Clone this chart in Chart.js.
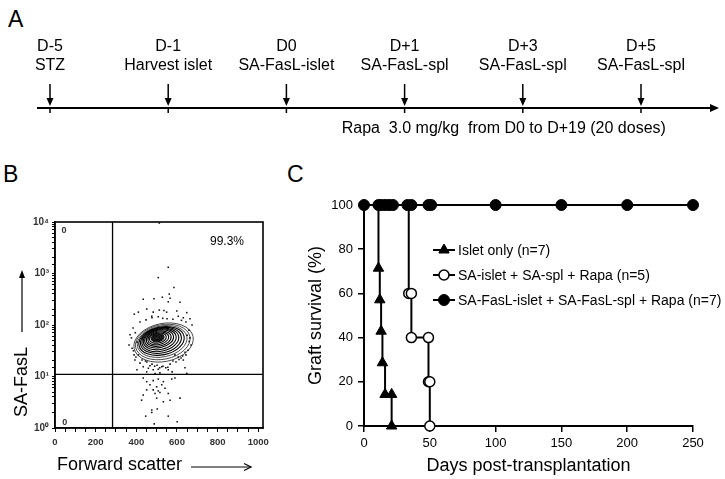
<!DOCTYPE html>
<html>
<head>
<meta charset="utf-8">
<script src="https://cdn.jsdelivr.net/npm/chart.js@4.4.0/dist/chart.umd.min.js"></script>
<style>
  html, body { margin: 0; padding: 0; background: #fff; }
  body { width: 725px; height: 479px; position: relative; overflow: hidden; font-family: Arial, "Liberation Sans", sans-serif; }
  .panel-label { position: absolute; font-size: 23px; color: #000; line-height: 1; }
  canvas { position: absolute; }
  #timeline { left: 0; top: 0; }
  #flow { left: 0; top: 190px; }
  #survival { left: 295px; top: 190px; }
</style>
</head>
<body>
<div class="panel-label" style="left:8px;top:8px">A</div>
<div class="panel-label" style="left:3px;top:163px">B</div>
<div class="panel-label" style="left:287px;top:163px">C</div>
<canvas id="timeline" width="725" height="150"></canvas>
<canvas id="flow" width="290" height="289"></canvas>
<canvas id="survival" width="430" height="289"></canvas>
<script>
// --- A: protocol timeline ---
const events = ['D-5', 'D-1', 'D0', 'D+1', 'D+3', 'D+5'];
const eventNotes = ['STZ', 'Harvest islet', 'SA-FasL-islet', 'SA-FasL-spl', 'SA-FasL-spl', 'SA-FasL-spl'];
const rapaNote = 'Rapa  3.0 mg/kg  from D0 to D+19 (20 doses)';

// --- B: flow cytometry (forward scatter vs SA-FasL, log decades) ---
const fscGate = 283;
const fasLGate = 11;
const quadText = ['0', '0', '99.3%'];
const quadFsc = [32, 36, 846];
const quadFasL = [6700, 1.25, 4100];
const dotFsc = [
  557, 508, 585, 434, 487, 528, 562, 557, 615, 566, 451, 410, 390, 483, 513, 536, 549, 599, 648, 476,
  508, 606, 631, 664, 369, 513, 418, 448, 477, 530, 551, 580, 622, 644, 384, 376, 379, 389, 403, 364,
  428, 452, 477, 502, 531, 566, 595, 620, 659, 664, 669, 654, 644, 674, 410, 393, 418, 434, 459, 483,
  508, 525, 545, 557, 590, 606, 631, 648, 451, 492, 467, 516, 639, 576, 403, 434, 451, 483, 508, 533,
  467, 500, 525, 574, 590, 451, 483, 508, 541, 434, 492, 516, 557, 500, 533, 566, 615, 426, 476, 476,
  503, 446, 557, 601, 488, 395, 386, 398, 660, 650, 640, 628, 445, 490, 515, 555, 580, 610
];
const dotLog = [
  3.12, 2.92, 2.73, 2.50, 2.51, 2.54, 2.60, 2.45, 2.44, 2.52, 2.31, 2.25, 2.21, 2.25, 2.29, 2.28, 2.25, 2.27, 2.24, 2.17,
  2.16, 2.17, 2.14, 2.12, 1.81, 3.98, 2.06, 2.10, 2.14, 2.13, 2.12, 2.11, 2.09, 2.06, 1.94, 1.75, 1.55, 1.42, 1.67, 1.61,
  1.32, 1.28, 1.24, 1.22, 1.20, 1.24, 1.28, 1.36, 1.90, 1.75, 1.61, 1.51, 1.42, 2.00, 1.42, 1.32, 1.26, 1.19, 1.16, 1.13,
  1.14, 1.19, 1.17, 1.13, 1.42, 1.38, 1.32, 1.06, 1.09, 1.06, 1.21, 1.07, 1.17, 1.09, 1.13, 0.97, 0.90, 0.92, 0.95, 0.90,
  0.84, 0.80, 0.84, 0.95, 0.97, 0.74, 0.74, 0.72, 0.77, 0.64, 0.67, 0.69, 0.67, 0.58, 0.51, 0.54, 0.58, 0.54, 0.35, 0.30,
  0.37, 0.23, 0.23, 0.12, 0.08, 1.85, 1.50, 1.38, 1.68, 1.80, 1.47, 1.40, 1.30, 1.20, 1.17, 1.18, 1.30, 1.33
];
// density contours: centre, half-width (fsc units), half-height (decades)
const contourFsc = [534, 530, 527, 524, 521, 518, 515, 512, 510, 508, 506, 505, 504, 503];
const contourLog = [1.66, 1.67, 1.68, 1.69, 1.70, 1.71, 1.72, 1.73, 1.735, 1.74, 1.745, 1.75, 1.75, 1.75];
const contourRx = [148, 136, 124, 113, 102, 92, 82, 72, 62, 52, 42, 32, 22, 12];
const contourRy = [0.37, 0.335, 0.30, 0.27, 0.245, 0.22, 0.195, 0.17, 0.145, 0.12, 0.095, 0.075, 0.05, 0.03];

// --- C: graft survival ---
const seriesLabels = ['Islet only (n=7)', 'SA-islet + SA-spl + Rapa (n=5)', 'SA-FasL-islet + SA-FasL-spl + Rapa (n=7)'];
const isletDays = [0, 11, 12, 13, 14, 16, 21, 21];
const isletSurv = [100, 71.4, 57.1, 42.9, 28.6, 14.3, 14.3, 0];
const saDays = [0, 34, 36, 36, 49, 49, 50, 50];
const saSurv = [100, 60, 60, 40, 40, 20, 20, 0];
const fasLDays = [0, 11, 13, 16, 19, 22, 33, 36, 49, 51, 100, 150, 200, 250];
const fasLSurv = [100, 100, 100, 100, 100, 100, 100, 100, 100, 100, 100, 100, 100, 100];

Chart.defaults.font.family = 'Arial, "Liberation Sans", sans-serif';
Chart.defaults.color = '#000';
Chart.defaults.animation = false;
Chart.defaults.plugins.legend.display = false;
Chart.defaults.plugins.tooltip.enabled = false;

const FONT = 'Arial, "Liberation Sans", sans-serif';

// ---------- A ----------
const timelinePlugin = {
  id: 'timeline',
  afterDatasetsDraw(chart) {
    const { ctx, scales: { x, y } } = chart;
    const base = y.getPixelForValue(0);
    const start = chart.chartArea.left - 13;
    const end = chart.width - 6;
    ctx.save();
    ctx.strokeStyle = '#000';
    ctx.fillStyle = '#000';
    ctx.lineWidth = 2;
    ctx.beginPath(); ctx.moveTo(start, base); ctx.lineTo(end - 6, base); ctx.stroke();
    ctx.beginPath(); ctx.moveTo(end, base); ctx.lineTo(end - 9, base - 4); ctx.lineTo(end - 9, base + 4); ctx.closePath(); ctx.fill();

    ctx.font = '16px ' + FONT;
    ctx.textAlign = 'center';
    ctx.textBaseline = 'middle';
    chart.getDatasetMeta(0).data.forEach((pt, i) => {
      const px = pt.x, top = pt.y;
      ctx.lineWidth = 1.5;
      ctx.beginPath(); ctx.moveTo(px, top); ctx.lineTo(px, base - 8); ctx.stroke();
      ctx.beginPath(); ctx.moveTo(px, base - 2); ctx.lineTo(px - 3.5, base - 10); ctx.lineTo(px + 3.5, base - 10); ctx.closePath(); ctx.fill();
      ctx.beginPath(); ctx.moveTo(px, base); ctx.lineTo(px, base + 5); ctx.stroke();
      ctx.fillText(events[i], px, top - 37);
      ctx.fillText(eventNotes[i], px, top - 18);
    });
    ctx.fillText(rapaNote, x.getPixelForValue(4) - 19, base + 21);
    ctx.restore();
  }
};

new Chart(document.getElementById('timeline'), {
  type: 'line',
  data: {
    labels: events,
    datasets: [{ data: events.map(() => 1), showLine: false, pointRadius: 0 }]
  },
  options: {
    responsive: false,
    devicePixelRatio: 1,
    layout: { padding: { left: 50, right: 84, top: 84, bottom: 42 } },
    scales: {
      x: { type: 'category', display: false, offset: false },
      y: { display: false, min: 0, max: 1 }
    }
  },
  plugins: [timelinePlugin]
});

// ---------- B ----------
const sup = ['\u2070', '\u00B9', '\u00B2', '\u00B3', '\u2074'];

const flowPlugin = {
  id: 'flow',
  beforeDatasetsDraw(chart) {
    const { ctx, scales: { x, y } } = chart;
    ctx.save();
    contourFsc.forEach((cx, i) => {
      const px = x.getPixelForValue(cx);
      const py = y.getPixelForValue(Math.pow(10, contourLog[i]));
      const rx = x.getPixelForValue(cx + contourRx[i]) - px;
      const ry = py - y.getPixelForValue(Math.pow(10, contourLog[i] + contourRy[i]));
      ctx.beginPath();
      ctx.ellipse(px, py, rx, ry, -0.2, 0, Math.PI * 2);
      ctx.lineWidth = i < 3 ? 0.9 : 1.1;
      ctx.strokeStyle = i < 3 ? '#333' : '#000';
      ctx.stroke();
      if (i >= contourFsc.length - 3) { ctx.fillStyle = '#222'; ctx.fill(); }
    });
    ctx.restore();
  },
  afterDatasetsDraw(chart) {
    const { ctx, chartArea: a, scales: { x, y } } = chart;
    ctx.save();
    ctx.strokeStyle = '#000';
    ctx.fillStyle = '#000';
    // gates
    ctx.lineWidth = 1.3;
    const gx = x.getPixelForValue(fscGate);
    const gy = y.getPixelForValue(fasLGate);
    ctx.beginPath(); ctx.moveTo(gx, a.top); ctx.lineTo(gx, a.bottom); ctx.stroke();
    ctx.beginPath(); ctx.moveTo(a.left, gy); ctx.lineTo(a.right, gy); ctx.stroke();
    // frame
    ctx.lineWidth = 1.6;
    ctx.strokeRect(a.left, a.top, a.right - a.left, a.bottom - a.top);
    // quadrant stats
    ctx.textBaseline = 'middle';
    quadText.forEach((t, i) => {
      ctx.font = (i < 2 ? 'bold 9px ' : '12px ') + FONT;
      ctx.fillStyle = i < 2 ? '#333' : '#000';
      ctx.textAlign = i < 2 ? 'left' : 'center';
      ctx.fillText(t, x.getPixelForValue(quadFsc[i]), y.getPixelForValue(quadFasL[i]));
    });
    // x title with arrow
    ctx.fillStyle = '#000';
    ctx.font = '18px ' + FONT;
    ctx.textAlign = 'left';
    const tx = a.left + 2, ty = a.bottom + 37;
    ctx.fillText('Forward scatter', tx, ty);
    const ax0 = tx + ctx.measureText('Forward scatter').width + 9;
    const ax1 = ax0 + 60;
    ctx.lineWidth = 1.2;
    ctx.beginPath(); ctx.moveTo(ax0, ty + 2); ctx.lineTo(ax1, ty + 2); ctx.stroke();
    ctx.beginPath(); ctx.moveTo(ax1 - 7, ty - 1.5); ctx.lineTo(ax1, ty + 2); ctx.lineTo(ax1 - 7, ty + 5.5); ctx.stroke();
    // y title with arrow
    const vx = 22, vy = a.bottom - 11;
    ctx.save();
    ctx.translate(vx, vy);
    ctx.rotate(-Math.PI / 2);
    ctx.fillText('SA-FasL', 0, 0);
    const vw = ctx.measureText('SA-FasL').width;
    ctx.restore();
    const arrowBottom = vy - vw - 15;
    const arrowTop = a.top + 48;
    ctx.beginPath(); ctx.moveTo(vx, arrowBottom); ctx.lineTo(vx, arrowTop + 6); ctx.stroke();
    ctx.beginPath(); ctx.moveTo(vx, arrowTop); ctx.lineTo(vx - 3, arrowTop + 8); ctx.lineTo(vx + 3, arrowTop + 8); ctx.closePath(); ctx.fill();
    ctx.restore();
  }
};

new Chart(document.getElementById('flow'), {
  type: 'scatter',
  data: {
    datasets: [{
      data: dotFsc.map((v, i) => ({ x: v, y: Math.pow(10, dotLog[i]) })),
      pointStyle: 'rect',
      pointRadius: 1.1,
      pointBackgroundColor: '#111',
      pointBorderWidth: 0
    }]
  },
  options: {
    responsive: false,
    devicePixelRatio: 1,
    layout: { padding: { left: 0, top: 32, right: 27, bottom: 0 } },
    scales: {
      x: {
        type: 'linear', min: 0, max: 1023,
        ticks: {
          stepSize: 50, includeBounds: false, autoSkip: false, maxRotation: 0, padding: 5,
          font: { size: 9.5, weight: 'bold' }, color: '#333',
          callback: v => (v % 200 === 0 ? v : '')
        },
        grid: { drawOnChartArea: false, tickLength: 4, color: '#000', lineWidth: 1 },
        border: { display: true, color: '#000', width: 1.5 },
        afterFit: s => { s.height = 51; }
      },
      y: {
        type: 'logarithmic', min: 1, max: 10000,
        ticks: {
          autoSkip: false, padding: 3,
          font: { size: 10, weight: 'bold' }, color: '#333',
          callback: v => {
            const e = Math.log10(v);
            return Math.abs(e - Math.round(e)) < 1e-9 ? '10' + sup[Math.round(e)] : '';
          }
        },
        grid: { drawOnChartArea: false, tickLength: 3, color: '#000', lineWidth: 1 },
        border: { display: true, color: '#000', width: 1.5 },
        afterFit: s => { s.width = 55; }
      }
    }
  },
  plugins: [flowPlugin]
});

// ---------- C ----------
const legendPlugin = {
  id: 'insideLegend',
  afterDraw(chart) {
    const { ctx, chartArea: a } = chart;
    ctx.save();
    ctx.font = '14px ' + FONT;
    ctx.textAlign = 'left';
    ctx.textBaseline = 'middle';
    chart.data.datasets.forEach((ds, i) => {
      const yy = a.top + 45 + i * 25;
      const x0 = a.left + 69;
      const cx = x0 + 11;
      ctx.strokeStyle = '#000';
      ctx.lineWidth = 2;
      ctx.beginPath(); ctx.moveTo(x0, yy); ctx.lineTo(x0 + 22, yy); ctx.stroke();
      ctx.beginPath();
      if (ds.pointStyle === 'triangle') {
        const r = 6;
        ctx.moveTo(cx, yy - r);
        ctx.lineTo(cx - r * 0.866, yy + r * 0.5);
        ctx.lineTo(cx + r * 0.866, yy + r * 0.5);
        ctx.closePath();
      } else {
        ctx.arc(cx, yy, ds.legendRadius, 0, Math.PI * 2);
      }
      ctx.fillStyle = ds.pointBackgroundColor;
      ctx.fill();
      ctx.lineWidth = ds.pointBorderWidth;
      ctx.stroke();
      ctx.fillStyle = '#000';
      ctx.fillText(ds.label, x0 + 25, yy + 1);
    });
    ctx.restore();
  }
};

const toPoints = (xs, ys) => xs.map((v, i) => ({ x: v, y: ys[i] }));

new Chart(document.getElementById('survival'), {
  type: 'scatter',
  data: {
    datasets: [
      {
        label: seriesLabels[0],
        data: toPoints(isletDays, isletSurv),
        showLine: true, stepped: 'before', borderColor: '#000', borderWidth: 2,
        pointStyle: 'triangle', pointRadius: c => (c.dataIndex === 0 ? 0 : 6),
        pointBackgroundColor: '#000', pointBorderColor: '#000', pointBorderWidth: 1,
        order: 2, clip: false
      },
      {
        label: seriesLabels[1],
        data: toPoints(saDays, saSurv),
        showLine: true, stepped: 'before', borderColor: '#000', borderWidth: 2,
        pointStyle: 'circle', pointRadius: c => (c.dataIndex === 0 ? 0 : 5), legendRadius: 5,
        pointBackgroundColor: '#fff', pointBorderColor: '#000', pointBorderWidth: 1.5,
        order: 1, clip: false
      },
      {
        label: seriesLabels[2],
        data: toPoints(fasLDays, fasLSurv),
        showLine: true, stepped: 'before', borderColor: '#000', borderWidth: 2,
        pointStyle: 'circle', pointRadius: 5.5, legendRadius: 5.5,
        pointBackgroundColor: '#000', pointBorderColor: '#000', pointBorderWidth: 1,
        order: 0, clip: false
      }
    ]
  },
  options: {
    responsive: false,
    devicePixelRatio: 1,
    layout: { padding: { left: 8, top: 15, right: 32, bottom: 0 } },
    scales: {
      x: {
        type: 'linear', min: 0, max: 250,
        ticks: { stepSize: 50, maxRotation: 0, padding: 4, font: { size: 13 }, color: '#000' },
        grid: { drawOnChartArea: false, tickLength: 6, color: '#000', lineWidth: 1.5 },
        border: { display: true, color: '#000', width: 2 },
        title: { display: true, text: 'Days post-transplantation', font: { size: 18 }, color: '#000', padding: { top: 2, bottom: 2 } },
        afterFit: s => { s.height = 53; }
      },
      y: {
        min: 0, max: 100,
        ticks: { stepSize: 20, padding: 5, font: { size: 13 }, color: '#000' },
        grid: { drawOnChartArea: false, tickLength: 6, color: '#000', lineWidth: 1.5 },
        border: { display: true, color: '#000', width: 2 },
        title: { display: true, text: 'Graft survival (%)', font: { size: 18 }, color: '#000', padding: { top: 2, bottom: 2 } },
        afterFit: s => { s.width = 61; }
      }
    }
  },
  plugins: [legendPlugin]
});
</script>
</body>
</html>
